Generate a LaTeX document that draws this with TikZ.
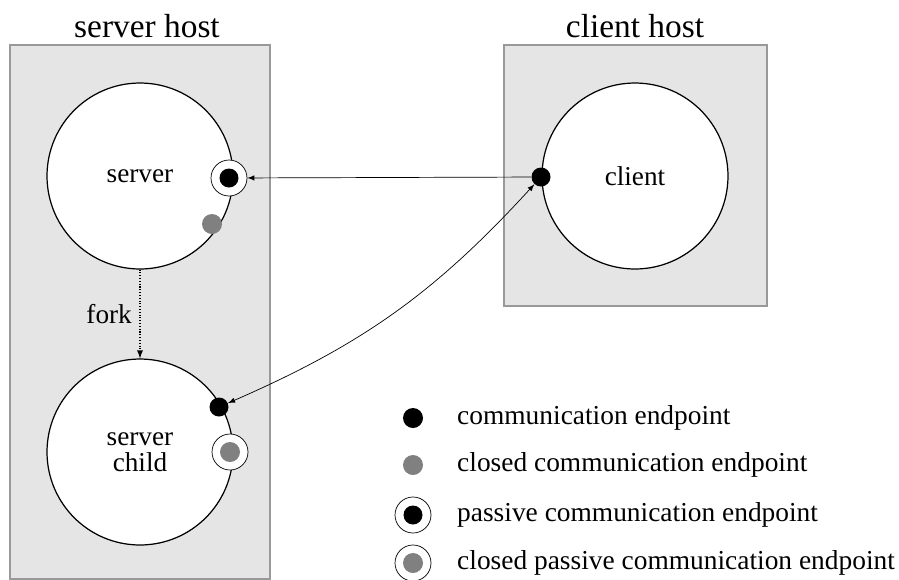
\documentclass[tikz,border=0pt]{standalone}
\usepackage{fontspec}
\setmainfont{Liberation Serif}
\usepackage{tikz}
\usetikzlibrary{arrows,positioning}

\definecolor{hostgray}{gray}{0.90}
\definecolor{dotgray}{gray}{0.50}

\tikzset{
  host/.style={draw=gray!80,fill=hostgray,line width=0.8pt},
  proc/.style={circle,draw,fill=white,line width=0.7pt,minimum size=3.72cm,inner sep=0pt,font=\fontsize{15.5}{17}\selectfont,align=center},
  ep/.style={circle,fill=black,minimum size=0.38cm,inner sep=0pt},
  cep/.style={circle,fill=dotgray,minimum size=0.40cm,inner sep=0pt},
  ring/.style={circle,draw,fill=white,line width=0.4pt,minimum size=0.72cm,inner sep=0pt},
  title/.style={font=\fontsize{19}{21}\selectfont},
  legtext/.style={anchor=west,font=\fontsize{15.6}{17}\selectfont}
}

\begin{document}
\begin{tikzpicture}[x=0.02cm,y=-0.02cm,>=latex]
\useasboundingbox (0,0) rectangle (899,579);
\fill[white] (0,0) rectangle (899,579);

% hosts
\draw[host] (10,45) rectangle (270,579);
\draw[host] (504,45) rectangle (767,306);
\node[title] (shost) at (147,26) {server host};
\node[title] (chost) at (635,26) {client host};

% processes
\node[proc] (server) at (140,176) {server};
\node[proc] (child) at (140,452) {server\\[-2pt]child};
\node[proc] (client) at (635,176) {client};

% endpoints
\node[ring] (sring) at (229,178) {};
\node[ep] (sdot) at (229,178) {};
\node[cep] (sclosed) at (212,224) {};
\node[ep] (cdot) at (541,177) {};
\node[ep] (kdot) at (219,407) {};
\node[ring] (kring) at (230,452) {};
\node[cep] (kclosed) at (230,452) {};

% connections
\draw[->,line width=0.4pt] (cdot) -- (sring);
\draw[<->,line width=0.4pt] (kdot) to[bend right=12] (cdot);
\draw[->,densely dotted,line width=0.6pt] (server) -- (child) node[pos=0.5,left=1pt,font=\fontsize{15.5}{17}\selectfont] (fork) {fork};

% legend
\node[ep,minimum size=0.40cm] (l1) at (413,418) {};
\node[legtext] (t1) at (451,418) {communication endpoint};
\node[cep] (l2) at (413,465) {};
\node[legtext] (t2) at (451,465) {closed communication endpoint};
\node[ring] (l3r) at (413,515) {};
\node[ep] (l3) at (413,515) {};
\node[legtext] (t3) at (451,515) {passive communication endpoint};
\node[ring] (l4r) at (413,563) {};
\node[cep] (l4) at (413,563) {};
\node[legtext] (t4) at (451,563) {closed passive communication endpoint};
\end{tikzpicture}
\end{document}
